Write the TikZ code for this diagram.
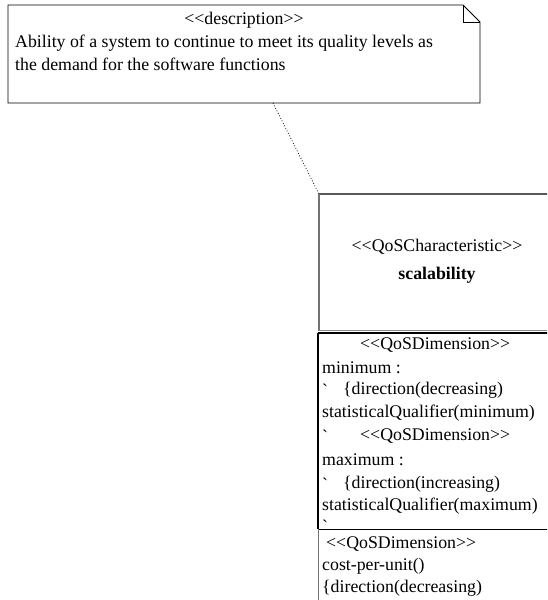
\documentclass[tikz,border=0pt]{standalone}
\usepackage{fontspec}
\newfontfamily\tnr{Liberation Serif}
\begin{document}
\begin{tikzpicture}[x=1pt,y=-1pt,
  txt/.style={font=\tnr\fontsize{17.8}{20}\selectfont, inner sep=0pt, anchor=west},
  ctxt/.style={font=\tnr\fontsize{17.8}{20}\selectfont, inner sep=0pt},
  notebox/.style={draw=black, line width=0.9pt},
  greyline/.style={draw=black!55, line width=1.3pt},
  blackline/.style={draw=black, line width=1.2pt}]
\clip (0,0) rectangle (547,600);
\fill[white] (0,0) rectangle (547,600);
% note
\draw[notebox] (8,5) -- (463,5) -- (480,22) -- (480,103) -- (8,103) -- cycle;
\draw[notebox] (463,5) -- (463,22) -- (480,22);
\node[ctxt] (ster) at (244,20) {<<description>>};
\node[txt] (d1) at (15,43) {Ability of a system to continue to meet its quality levels as};
\node[txt] (d2) at (15,64) {the demand for the software functions};
\coordinate (notebot) at (273,103);
% class box
\coordinate (classtl) at (319,194);
\draw[draw=black!65, line width=1.6pt] (319,194) -- (560,194);
\draw[greyline] (319,194) -- (319,331);
\draw[draw=black!45, line width=1pt] (319,330.5) -- (560,330.5);
\draw[draw=black, line width=1.4pt] (318,333) -- (560,333);
\draw[draw=black, line width=1.8pt] (318,333) -- (318,529);
\draw[draw=black, line width=1pt] (318,529) -- (560,529);
\draw[greyline] (318.5,529) -- (318.5,610);
\node[ctxt] (st) at (437,247) {<<QoSCharacteristic>>};
\node[ctxt, font=\tnr\bfseries\fontsize{17.8}{20}\selectfont] (name) at (437,275) {scalability};
% middle compartment
\node[txt] (m0) at (360,345) {<<QoSDimension>>};
\node[txt] (m1) at (322,368) {minimum :};
\node[txt] (m2a) at (322,390) {`};
\node[txt] (m2) at (343,390) {\{direction(decreasing)};
\node[txt] (m3) at (322,413) {statisticalQualifier(minimum)};
\node[txt] (m4a) at (322,436) {`};
\node[txt] (m4) at (360,436) {<<QoSDimension>>};
\node[txt] (m5) at (322,460) {maximum :};
\node[txt] (m6a) at (322,484) {`};
\node[txt] (m6) at (343,484) {\{direction(increasing)};
\node[txt] (m7) at (322,506) {statisticalQualifier(maximum)};
\node[txt] (m8a) at (322,526) {`};
% bottom compartment
\node[txt] (b0) at (326,544) {<<QoSDimension>>};
\node[txt] (b1) at (322,566) {cost-per-unit()};
\node[txt] (b2) at (322,588) {\{direction(decreasing)};
% connector
\draw[black, line width=0.8pt, dotted] (notebot) -- (classtl);
\end{tikzpicture}
\end{document}
